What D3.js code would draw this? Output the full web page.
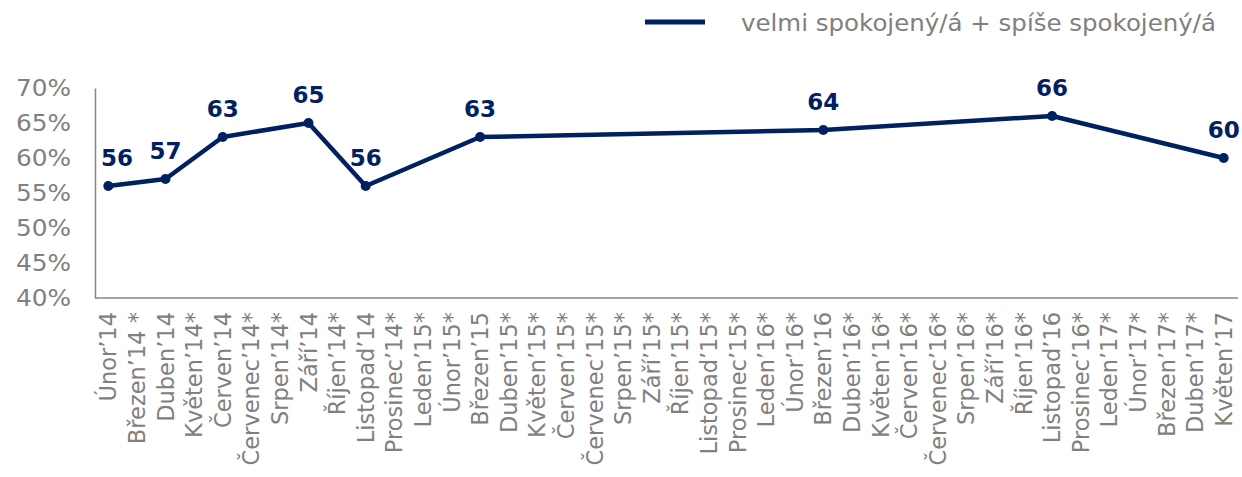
<!DOCTYPE html>
<html><head><meta charset="utf-8">
<script src="https://cdn.jsdelivr.net/npm/d3@7/dist/d3.min.js"></script>
<style>body{margin:0;background:#fff}svg{display:block}</style>
</head><body>
<svg id="c" width="1242" height="477"></svg>
<script>
const categories = ["Únor’14","Březen’14 *","Duben’14","Květen’14*","Červen’14","Červenec’14*","Srpen’14*","Září’14","Říjen’14*","Listopad’14","Prosinec’14*","Leden’15*","Únor’15*","Březen’15","Duben’15*","Květen’15*","Červen’15*","Červenec’15*","Srpen’15*","Září’15*","Říjen’15*","Listopad’15*","Prosinec’15*","Leden’16*","Únor’16*","Březen’16","Duben’16*","Květen’16*","Červen’16*","Červenec’16*","Srpen’16*","Září’16*","Říjen’16*","Listopad’16","Prosinec’16*","Leden’17*","Únor’17*","Březen’17*","Duben’17*","Květen’17"];
const values = [56,null,57,null,63,null,null,65,null,56,null,null,null,63,null,null,null,null,null,null,null,null,null,null,null,64,null,null,null,null,null,null,null,66,null,null,null,null,null,60];
const yTicks = [40,45,50,55,60,65,70];
const seriesName = "velmi spokojený/á + spíše spokojený/á";

const svg = d3.select("#c");
const L = 94, R = 1238, T = 88, B = 298;
const navy = "#002060", gray = "#808080";
const font = "'DejaVu Sans', Verdana, sans-serif";

const x = d3.scaleBand().domain(categories).range([L, R]);
const y = d3.scaleLinear().domain([40, 70]).range([B, T]);
const cx = d => x(d) + x.bandwidth() / 2;

// axes
const yAxis = d3.axisLeft(y).tickValues(yTicks).tickSize(0).tickPadding(24).tickFormat(d => d + "%");
const gy = svg.append("g").attr("transform", `translate(${L + 1},0)`).call(yAxis);
gy.select(".domain").attr("stroke", "#868686").attr("stroke-width", 1.5);
gy.selectAll("text").attr("font-family", font).attr("font-size", 23).attr("fill", gray)
  .attr("textLength", 55).attr("lengthAdjust", "spacingAndGlyphs");

const xAxis = d3.axisBottom(x).tickSize(0).tickPadding(0);
const gx = svg.append("g").attr("transform", `translate(0,${B})`).call(xAxis);
gx.select(".domain").attr("stroke", "#868686").attr("stroke-width", 1.5).attr("d", `M${L + 1},0H${R}`);
gx.selectAll("text")
  .attr("font-family", font).attr("font-size", 22.5).attr("fill", gray)
  .attr("text-anchor", "end")
  .attr("transform", "translate(0,14) rotate(-90)")
  .attr("x", 0).attr("y", 0).attr("dy", "0.36em");

// line
const pts = categories.map((c, i) => ({c, v: values[i]})).filter(d => d.v != null);
svg.append("path").datum(pts)
  .attr("d", d3.line().x(d => cx(d.c)).y(d => y(d.v)))
  .attr("fill", "none").attr("stroke", navy).attr("stroke-width", 4.5).attr("stroke-linejoin", "round");
svg.selectAll("circle.pt").data(pts).join("circle").attr("class", "pt")
  .attr("cx", d => cx(d.c)).attr("cy", d => y(d.v)).attr("r", 5).attr("fill", navy);
svg.selectAll("text.lbl").data(pts).join("text").attr("class", "lbl")
  .attr("x", d => Math.max(cx(d.c), L + 23)).attr("y", d => y(d.v) - 20)
  .attr("text-anchor", "middle").attr("font-family", font).attr("font-size", 23)
  .attr("font-weight", "bold").attr("fill", navy).text(d => d.v);

// legend
svg.append("line").attr("x1", 645).attr("x2", 705).attr("y1", 22).attr("y2", 22)
  .attr("stroke", navy).attr("stroke-width", 5);
svg.append("text").attr("x", 741).attr("y", 31).attr("font-family", font).attr("font-size", 22.5)
  .attr("fill", gray).attr("textLength", 475).attr("lengthAdjust", "spacingAndGlyphs").text(seriesName);
</script>
</body></html>
